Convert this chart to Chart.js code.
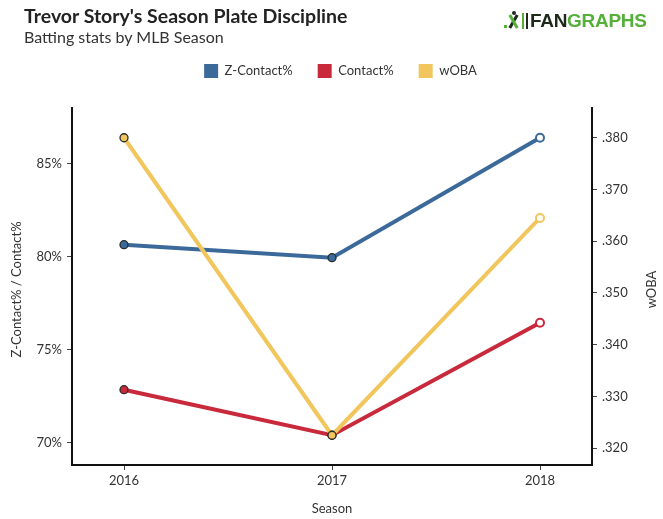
<!DOCTYPE html>
<html>
<head>
<meta charset="utf-8">
<script src="https://cdn.jsdelivr.net/npm/chart.js@4/dist/chart.umd.min.js"></script>
<style>
  html, body { margin: 0; padding: 0; background: #fff; }
  #wrap { position: relative; width: 663px; height: 519px; overflow: hidden; font-family: Lato, "Open Sans", sans-serif; }
  #c { position: absolute; left: 0; top: 0; }
  #title { position: absolute; left: 24px; top: 4px; font-weight: bold; font-size: 19.5px; color: #222; white-space: nowrap; }
  #sub { position: absolute; left: 24px; top: 27px; font-size: 16px; color: #333; white-space: nowrap; }
  #logo { position: absolute; left: 503px; top: 9px; width: 150px; height: 24px; }
  #logo .txt { position: absolute; left: 27px; top: 1px; font-family: "Liberation Sans Narrow", "Liberation Sans", sans-serif; font-weight: bold; font-size: 19px; letter-spacing: -0.3px; white-space: nowrap; }
  #logo .fan { color: #1d2a1a; }
  #logo .gr { color: #55b03a; }
  .ic { position: absolute; background: #55b03a; }
</style>
</head>
<body>
<div id="wrap">
  <canvas id="c" width="663" height="519"></canvas>
  <div id="title">Trevor Story's Season Plate Discipline</div>
  <div id="sub">Batting stats by MLB Season</div>
  <div id="logo">
    <div class="ic" style="left:1px;top:16px;width:3px;height:3px;"></div>
    <div class="ic" style="left:9px;top:5px;width:3px;height:15px;background:#1d2a1a;transform:rotate(30deg);"></div>
    <div class="ic" style="left:9px;top:5px;width:3px;height:15px;transform:rotate(-30deg);"></div>
    <div class="ic" style="left:9px;top:2px;width:4px;height:4px;border-radius:2px;background:#1d2a1a;"></div>
    <div class="ic" style="left:19px;top:4px;width:2px;height:16px;"></div>
    <div class="ic" style="left:23px;top:4px;width:2px;height:16px;background:#1d2a1a;"></div>
    <div class="txt"><span class="fan">FAN</span><span class="gr">GRAPHS</span></div>
  </div>
</div>
<script>
// ---- data ----
const seasons = [2016, 2017, 2018];
const zContact = [80.65, 79.95, 86.4];
const contact = [72.85, 70.4, 76.45];
const woba = [0.380, 0.3225, 0.3645];
const pctTicks = [70, 75, 80, 85];
const wobaTicks = [0.320, 0.330, 0.340, 0.350, 0.360, 0.370, 0.380];
const seriesNames = ['Z-Contact%', 'Contact%', 'wOBA'];
const xTitle = 'Season';
const yLeftTitle = 'Z-Contact% / Contact%';
const yRightTitle = 'wOBA';

const BLUE = '#3b6999', RED = '#c8293b', YELLOW = '#f1c65c';
const FONT = 'Lato, "Open Sans", sans-serif';
const TXT = '#333';

function pts(vals) { return seasons.map((s, i) => ({ x: s, y: vals[i] })); }
function padRange(arrs) {
  const all = [].concat(...arrs);
  const lo = Math.min(...all), hi = Math.max(...all);
  const p = (hi - lo) * 0.1;
  return { min: lo - p, max: hi + p };
}
const pctRange = padRange([zContact, contact]);
const wobaRange = padRange([woba]);

function ds(label, vals, color, axis, order) {
  return {
    label, data: pts(vals), yAxisID: axis, order,
    borderColor: color, backgroundColor: color, borderWidth: 4,
    pointRadius: 4, pointHoverRadius: 4,
    pointBackgroundColor: [color, color, '#fff'],
    pointBorderColor: ['#2b2b2b', '#2b2b2b', color],
    pointBorderWidth: [1.3, 1.3, 2],
    tension: 0, fill: false
  };
}

// fixes the legend block height so the plot area starts where the reference's does
const legendHeight = {
  id: 'legendHeight',
  beforeLayout(chart) {
    const lg = chart.legend;
    if (lg && !lg._fixedH) {
      const f = lg.fit.bind(lg);
      lg.fit = function () { f(); this.height = 69; };
      lg._fixedH = true;
    }
  }
};

const axisTitles = {
  id: 'axisTitles',
  afterDraw(chart) {
    const ctx = chart.ctx, a = chart.chartArea;
    const cy = (a.top + a.bottom) / 2 + 3;
    ctx.save();
    ctx.fillStyle = TXT;
    ctx.font = '13px ' + FONT;
    ctx.textAlign = 'center';
    ctx.textBaseline = 'middle';
    ctx.fillText(xTitle, (a.left + a.right) / 2, 509);
    ctx.save(); ctx.translate(17, cy); ctx.rotate(-Math.PI / 2); ctx.fillText(yLeftTitle, 0, 0); ctx.restore();
    ctx.save(); ctx.translate(652, cy); ctx.rotate(-Math.PI / 2); ctx.fillText(yRightTitle, 0, 0); ctx.restore();
    ctx.restore();
  }
};

const tickFont = { family: FONT, size: 13 };

new Chart(document.getElementById('c'), {
  type: 'line',
  data: {
    datasets: [
      ds(seriesNames[0], zContact, BLUE, 'yL', 3),
      ds(seriesNames[1], contact, RED, 'yL', 2),
      ds(seriesNames[2], woba, YELLOW, 'yR', 1)
    ]
  },
  options: {
    responsive: false,
    animation: false,
    layout: { padding: { top: 39, left: 18, right: 0, bottom: 0 } },
    plugins: {
      title: { display: false },
      tooltip: { enabled: false },
      legend: {
        display: true, position: 'top', align: 'center',
        labels: {
          boxWidth: 14, boxHeight: 14, padding: 25, color: TXT,
          font: { family: FONT, size: 13 },
          sort: (a, b) => a.datasetIndex - b.datasetIndex,
          generateLabels(chart) {
            const items = Chart.defaults.plugins.legend.labels.generateLabels(chart);
            items.forEach(it => { it.lineWidth = 0; it.fillStyle = it.strokeStyle; });
            return items;
          }
        }
      }
    },
    scales: {
      x: {
        type: 'linear',
        min: seasons[0] - 0.25, max: seasons[seasons.length - 1] + 0.25,
        afterBuildTicks: s => { s.ticks = seasons.map(v => ({ value: v })); },
        afterFit: s => { s.height = 54; },
        ticks: { callback: v => String(v), font: tickFont, color: TXT, padding: 3, maxRotation: 0, autoSkip: false },
        grid: { drawOnChartArea: false, drawTicks: true, tickLength: 5, tickColor: '#444', tickWidth: 1 },
        border: { display: true, color: '#111', width: 2 },
        title: { display: false }
      },
      yL: {
        type: 'linear', position: 'left',
        min: pctRange.min, max: pctRange.max,
        afterBuildTicks: s => { s.ticks = pctTicks.map(v => ({ value: v })); },
        afterFit: s => { s.width = 54; },
        ticks: { callback: v => v + '%', font: tickFont, color: TXT, padding: 5 },
        grid: { drawOnChartArea: false, drawTicks: true, tickLength: 5, tickColor: '#444', tickWidth: 1 },
        border: { display: true, color: '#111', width: 2 },
        title: { display: false }
      },
      yR: {
        type: 'linear', position: 'right',
        min: wobaRange.min, max: wobaRange.max,
        afterBuildTicks: s => { s.ticks = wobaTicks.map(v => ({ value: v })); },
        afterFit: s => { s.width = 71; },
        ticks: { callback: v => v.toFixed(3).replace(/^0/, ''), font: tickFont, color: TXT, padding: 5 },
        grid: { drawOnChartArea: false, drawTicks: true, tickLength: 5, tickColor: '#444', tickWidth: 1 },
        border: { display: true, color: '#111', width: 2 },
        title: { display: false }
      }
    }
  },
  plugins: [legendHeight, axisTitles]
});
</script>
</body>
</html>
